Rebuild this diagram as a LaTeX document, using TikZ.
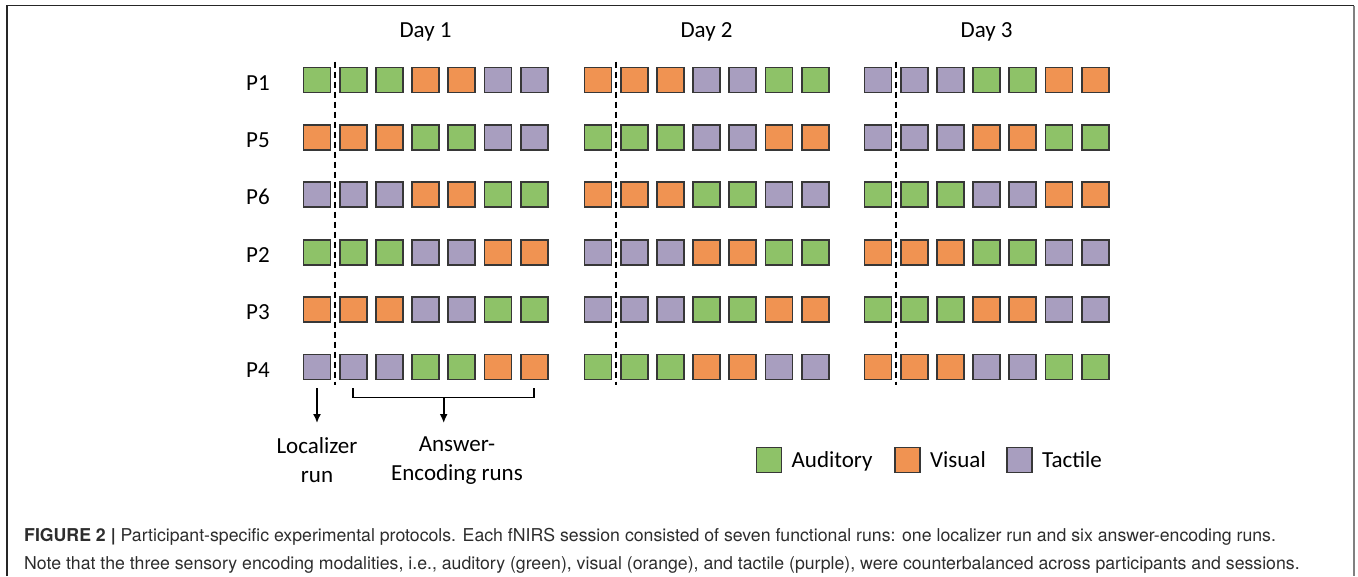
\documentclass[tikz,border=0pt]{standalone}
\usepackage{fontspec}
\setmainfont{Carlito}
\newfontfamily\captionfont{TeX Gyre Heros}
\usepackage{tikz}
\usetikzlibrary{calc, arrows.meta}

\definecolor{audgreen}{RGB}{142,194,104}
\definecolor{visorange}{RGB}{240,147,82}
\definecolor{tacpurple}{RGB}{168,158,191}
\definecolor{runedge}{RGB}{55,55,55}
\definecolor{captiongrey}{RGB}{45,45,45}

% one session: localizer run + six answer-encoding runs
% #1 name prefix, #2 x of localizer, #3 y of row, #4-#6 modality colours
\newcommand{\dayruns}[6]{%
  \node[run, fill=#4] (#1-1) at (#2, #3) {};
  \foreach \k/\c in {2/#4, 3/#4, 4/#5, 5/#5, 6/#6, 7/#6}
    \node[run, fill=\c] (#1-\k) at ({#2+(\k-1)*36.2}, #3) {};
}

\begin{document}
\begin{tikzpicture}[x=1pt, y=-1pt,
    run/.style={draw=runedge, line width=1.8pt, minimum width=27pt, minimum height=25pt, inner sep=0pt},
    keybox/.style={run, minimum width=25pt, minimum height=25pt},
    label/.style={font=\fontsize{23}{29}\selectfont, inner sep=0pt},
    splitline/.style={line width=1.8pt, dash pattern=on 6pt off 4pt},
    pointer/.style={line width=1.6pt, -{Latex[length=9pt, width=8pt]}},
    captext/.style={font=\captionfont\fontsize{17.7}{22}\selectfont, text=captiongrey, inner sep=0pt}]

    \useasboundingbox (0,0) rectangle (1358,576);

    % frame round figure and caption
    \draw[line width=1.5pt, black!85] (7,576) -- (7,5.5) -- (1354,5.5);
    \draw[line width=2.5pt, black!50] (1354,5.5) -- (1354,576);

    % P1
    \dayruns{d1-P1}{317}{80}{audgreen}{visorange}{tacpurple}
    \dayruns{d2-P1}{598}{80}{visorange}{tacpurple}{audgreen}
    \dayruns{d3-P1}{878}{80}{tacpurple}{audgreen}{visorange}
    % P5
    \dayruns{d1-P5}{317}{137.4}{visorange}{audgreen}{tacpurple}
    \dayruns{d2-P5}{598}{137.4}{audgreen}{tacpurple}{visorange}
    \dayruns{d3-P5}{878}{137.4}{tacpurple}{visorange}{audgreen}
    % P6
    \dayruns{d1-P6}{317}{194.8}{tacpurple}{visorange}{audgreen}
    \dayruns{d2-P6}{598}{194.8}{visorange}{audgreen}{tacpurple}
    \dayruns{d3-P6}{878}{194.8}{audgreen}{tacpurple}{visorange}
    % P2
    \dayruns{d1-P2}{317}{252.2}{audgreen}{tacpurple}{visorange}
    \dayruns{d2-P2}{598}{252.2}{tacpurple}{visorange}{audgreen}
    \dayruns{d3-P2}{878}{252.2}{visorange}{audgreen}{tacpurple}
    % P3
    \dayruns{d1-P3}{317}{309.6}{visorange}{tacpurple}{audgreen}
    \dayruns{d2-P3}{598}{309.6}{tacpurple}{audgreen}{visorange}
    \dayruns{d3-P3}{878}{309.6}{audgreen}{visorange}{tacpurple}
    % P4
    \dayruns{d1-P4}{317}{367}{tacpurple}{audgreen}{visorange}
    \dayruns{d2-P4}{598}{367}{audgreen}{visorange}{tacpurple}
    \dayruns{d3-P4}{878}{367}{visorange}{tacpurple}{audgreen}

    % participant labels
    \foreach \p/\y in {P1/80, P5/137.4, P6/194.8, P2/252.2, P3/309.6, P4/367}
      \node[label, anchor=base] (lab-\p) at (258, \y+10) {\p};

    % day headers and localizer split lines
    \foreach \d in {1,2,3} {
      \node[label, anchor=base] (day\d) at ($(d\d-P1-1)!.5!(d\d-P1-7) + (0,-43)$) {Day \d};
      \draw[splitline] ($(d\d-P1-1.north)!.5!(d\d-P1-2.north) + (0,-5)$)
        -- ($(d\d-P4-1.south)!.5!(d\d-P4-2.south) + (0,5)$);
    }

    % run type annotations under day 1
    \node[label, anchor=north, align=center] (loc) at (317,437) {Localizer\\run};
    \node[label, anchor=north, align=center] (ans) at (457,437) {Answer-\\Encoding runs};
    \draw[pointer] ($(d1-P4-1.south) + (0,8)$) -- ($(loc.north) + (0,-14)$);
    \draw[line width=1.6pt] ($(d1-P4-2.south) + (0,8)$) -- ++(0,9) -| ($(d1-P4-7.south) + (0,8)$);
    \coordinate (brace) at ($(d1-P4-2.south)!.5!(d1-P4-7.south) + (0,17)$);
    \draw[pointer] (brace) -- ($(ans.north -| brace) + (0,-14)$);

    % legend
    \foreach \m/\c/\t/\x in {aud/audgreen/Auditory/769, vis/visorange/Visual/907.5, tac/tacpurple/Tactile/1019.5} {
      \node[keybox, fill=\c] (key-\m) at (\x, 460) {};
      \node[label, anchor=base west] (keylab-\m) at ($(key-\m.east) + (9,7)$) {\t};
    }

    % caption
    \node[captext, anchor=base west] (cap1) at (24,541)
      {\textbf{FIGURE 2 |} Participant-specific experimental protocols. Each fNIRS session consisted of seven functional runs: one localizer run and six answer-encoding runs.};
    \node[captext, anchor=base west] (cap2) at (24,569)
      {Note that the three sensory encoding modalities, i.e., auditory (green), visual (orange), and tactile (purple), were counterbalanced across participants and sessions.};
\end{tikzpicture}
\end{document}
